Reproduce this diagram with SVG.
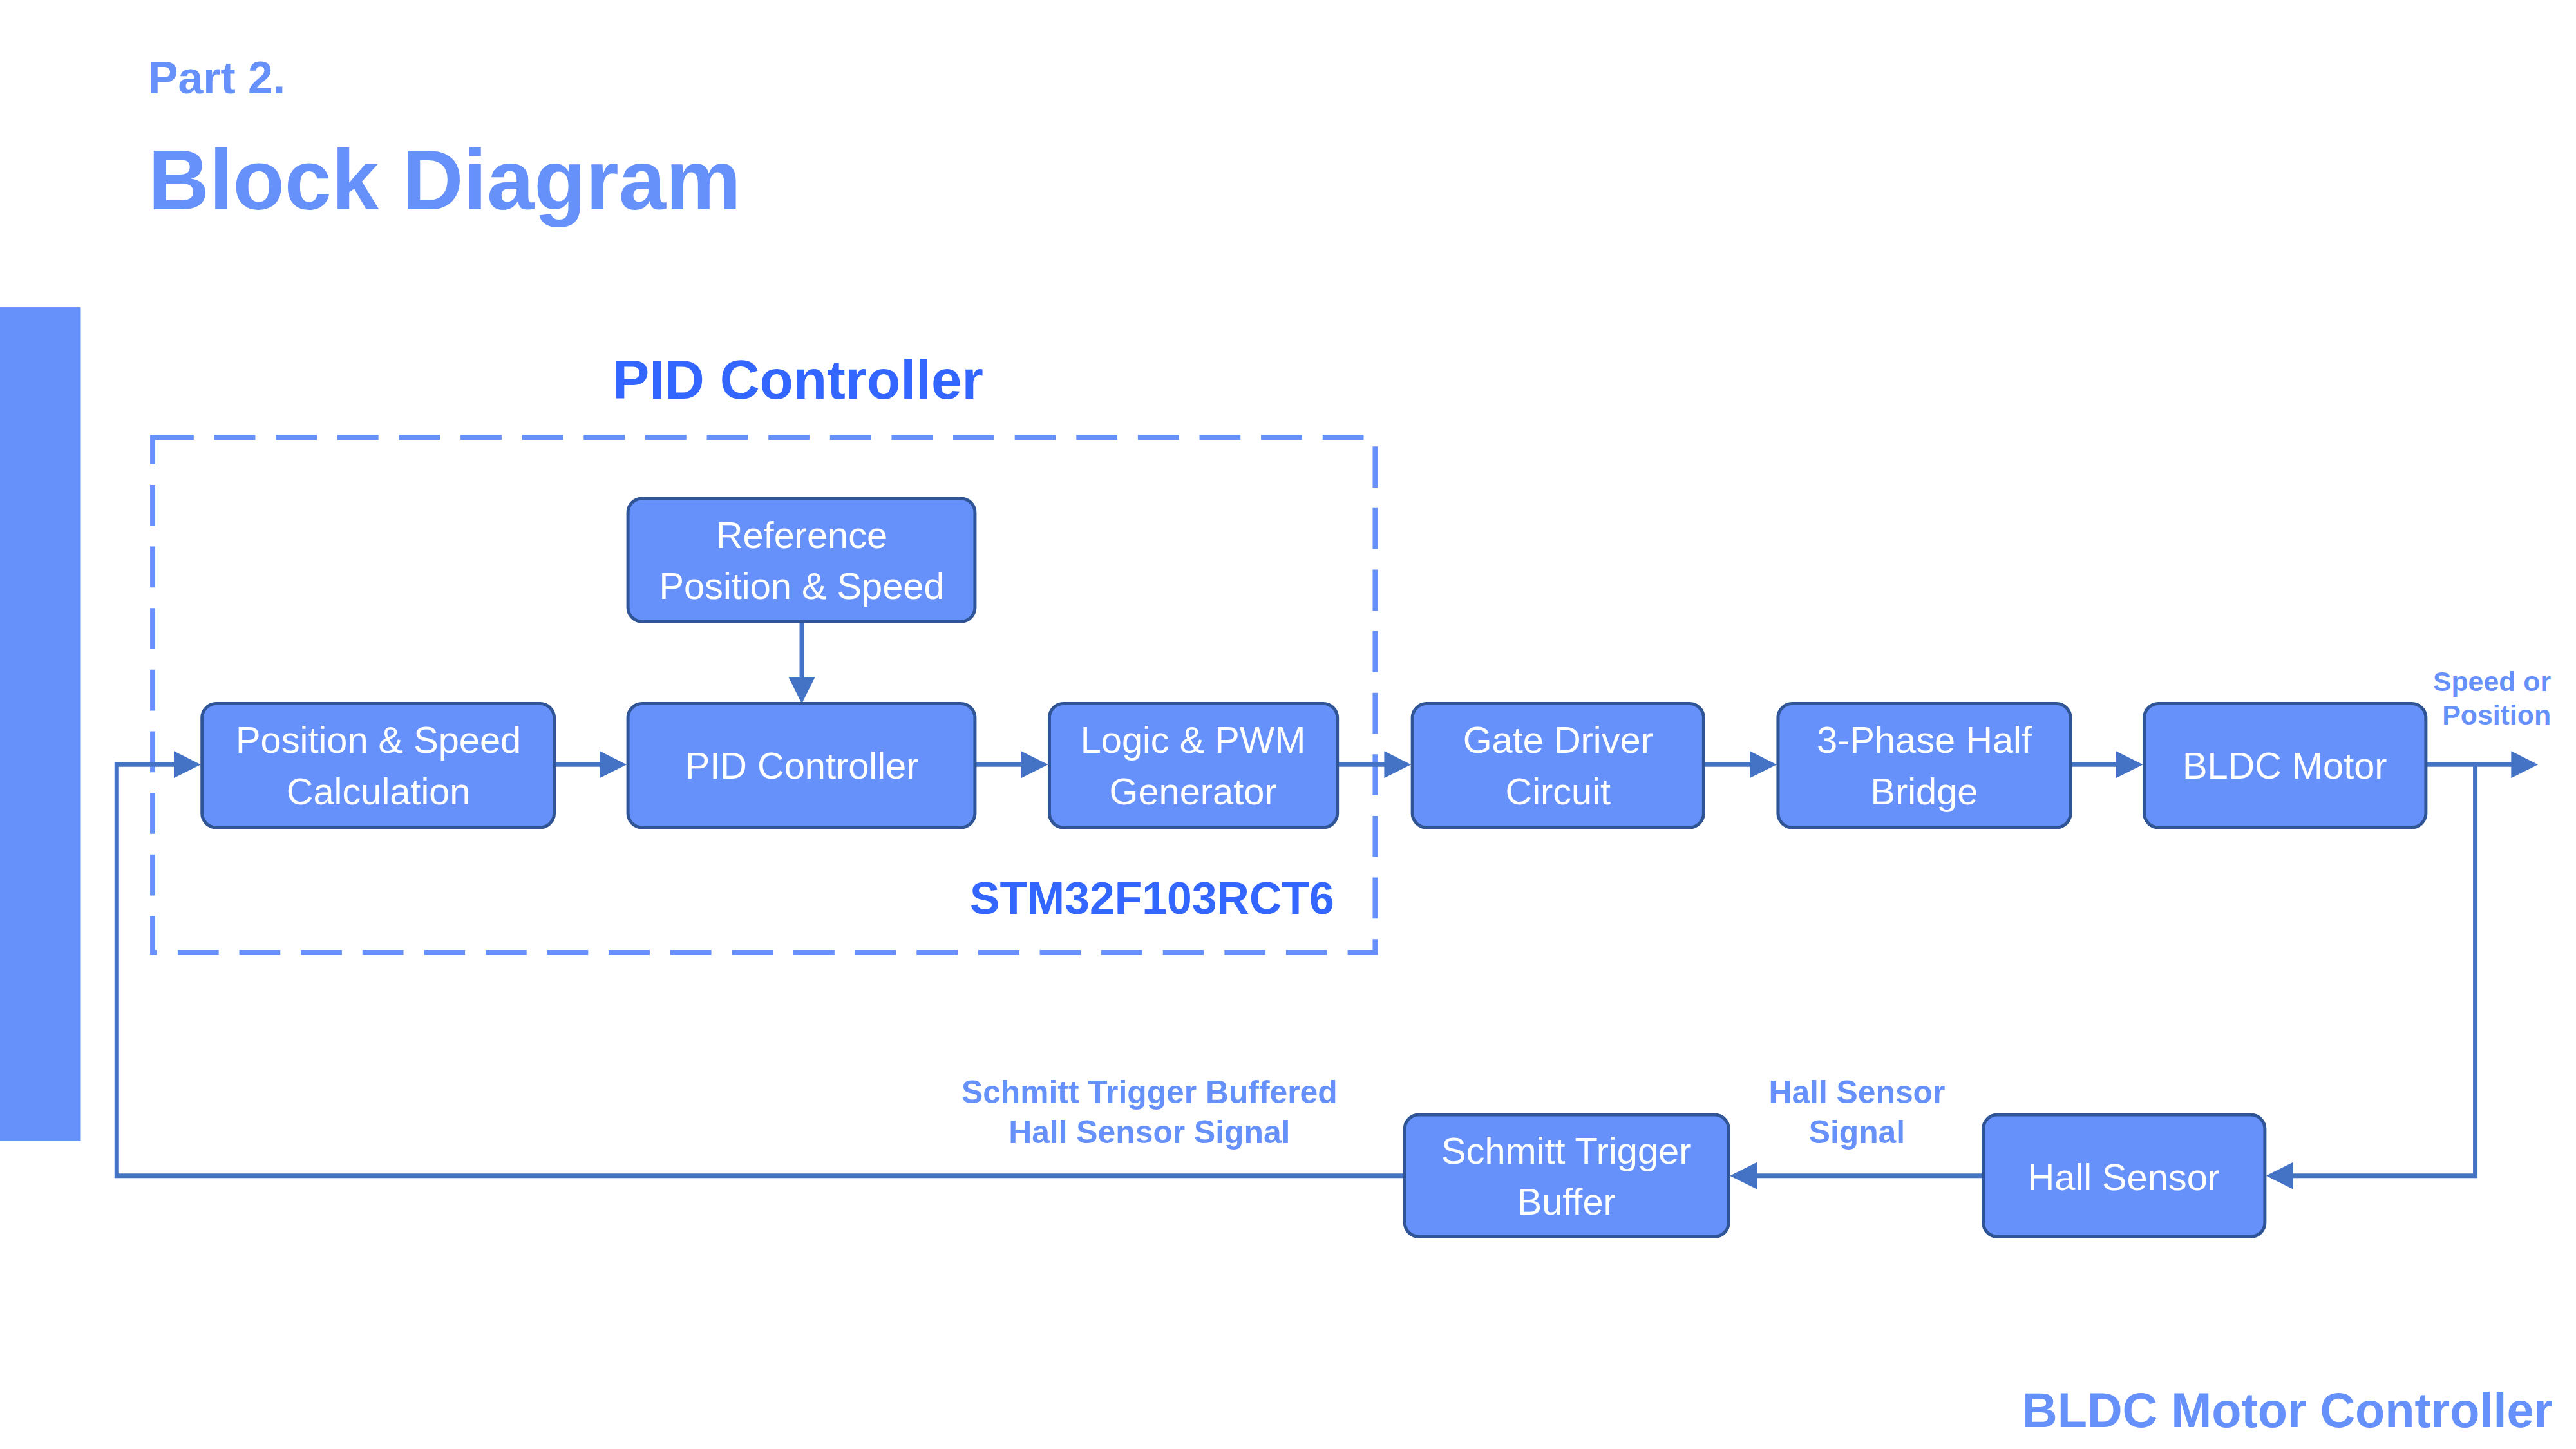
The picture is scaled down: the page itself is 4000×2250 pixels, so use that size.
<svg xmlns="http://www.w3.org/2000/svg" width="4000" height="2250" viewBox="0 0 4000 2250">
<defs>
<style>
.t{font-family:"Liberation Sans",Arial,sans-serif;}
.box rect{fill:#6690fa;stroke:#2f5597;stroke-width:5;}
.box text{fill:#fff;font-size:58px;text-anchor:middle;font-family:"Liberation Sans",Arial,sans-serif;}
.ln{fill:none;stroke:#4472c4;stroke-width:7;}
.lbl{fill:#6690fa;font-weight:bold;font-family:"Liberation Sans",Arial,sans-serif;}
</style>
<marker id="ah" markerWidth="6" markerHeight="6" refX="5" refY="3" orient="auto" markerUnits="strokeWidth"><path d="M0,0 L6,3 L0,6 z" fill="#4472c4"/></marker>
</defs>
<rect width="4000" height="2250" fill="#fff"/>
<g transform="scale(0.996)">
<rect x="0" y="479" width="126" height="1300" fill="#6690fa"/>
<text class="t" x="231" y="146" font-size="70" font-weight="bold" fill="#6690fa">Part 2.</text>
<text class="t" x="231" y="326" font-size="132" font-weight="bold" fill="#6690fa">Block Diagram</text>
<text class="t" x="1244" y="622" font-size="86" font-weight="bold" fill="#3366ff" text-anchor="middle">PID Controller</text>
<rect x="238" y="682" width="1906" height="803" fill="none" stroke="#6690fa" stroke-width="8" stroke-dasharray="64 32"/>
<text class="t" x="2080" y="1425" font-size="70" font-weight="bold" fill="#3366ff" text-anchor="end">STM32F103RCT6</text>
<text class="t" x="3980" y="2225" font-size="76" font-weight="bold" fill="#6690fa" text-anchor="end">BLDC Motor Controller</text>

<g id="connectors">
<path class="ln" d="M1250,969 V1090" marker-end="url(#ah)"/>
<path class="ln" d="M864,1192 H970" marker-end="url(#ah)"/>
<path class="ln" d="M1520,1192 H1627" marker-end="url(#ah)"/>
<path class="ln" d="M2085,1192 H2193" marker-end="url(#ah)"/>
<path class="ln" d="M2656,1192 H2763" marker-end="url(#ah)"/>
<path class="ln" d="M3228,1192 H3334" marker-end="url(#ah)"/>
<path class="ln" d="M3782,1192 H3950" marker-end="url(#ah)"/>
<path class="ln" d="M3859,1192 V1833 H3540" marker-end="url(#ah)"/>
<path class="ln" d="M3092,1833 H2704" marker-end="url(#ah)"/>
<path class="ln" d="M2190,1833 H182 V1192 H306" marker-end="url(#ah)"/>
</g>
<text class="lbl" x="3977" y="1077" font-size="43" text-anchor="end">Speed or</text>
<text class="lbl" x="3977" y="1130" font-size="43" text-anchor="end">Position</text>
<text class="lbl" x="2895" y="1720" font-size="50" text-anchor="middle">Hall Sensor</text>
<text class="lbl" x="2895" y="1782" font-size="50" text-anchor="middle">Signal</text>
<text class="lbl" x="1792" y="1720" font-size="50" text-anchor="middle">Schmitt Trigger Buffered</text>
<text class="lbl" x="1792" y="1782" font-size="50" text-anchor="middle">Hall Sensor Signal</text>

<g id="n_ref" class="box"><rect x="979" y="777" width="541" height="192" rx="22"/><text x="1250" y="854">Reference</text><text x="1250" y="934">Position &amp; Speed</text></g>
<g id="n_pos" class="box"><rect x="315" y="1097" width="549" height="193" rx="22"/><text x="590" y="1174">Position &amp; Speed</text><text x="590" y="1254">Calculation</text></g>
<g id="n_pid" class="box"><rect x="979" y="1097" width="541" height="193" rx="22"/><text x="1250" y="1214">PID Controller</text></g>
<g id="n_pwm" class="box"><rect x="1636" y="1097" width="449" height="193" rx="22"/><text x="1860" y="1174">Logic &amp; PWM</text><text x="1860" y="1254">Generator</text></g>
<g id="n_gate" class="box"><rect x="2202" y="1097" width="454" height="193" rx="22"/><text x="2429" y="1174">Gate Driver</text><text x="2429" y="1254">Circuit</text></g>
<g id="n_bridge" class="box"><rect x="2772" y="1097" width="456" height="193" rx="22"/><text x="3000" y="1174">3-Phase Half</text><text x="3000" y="1254">Bridge</text></g>
<g id="n_motor" class="box"><rect x="3343" y="1097" width="439" height="193" rx="22"/><text x="3562" y="1214">BLDC Motor</text></g>
<g id="n_hall" class="box"><rect x="3092" y="1738" width="439" height="190" rx="22"/><text x="3311" y="1855">Hall Sensor</text></g>
<g id="n_schmitt" class="box"><rect x="2190" y="1738" width="505" height="190" rx="22"/><text x="2442" y="1814">Schmitt Trigger</text><text x="2442" y="1894">Buffer</text></g>
</g>
</svg>
